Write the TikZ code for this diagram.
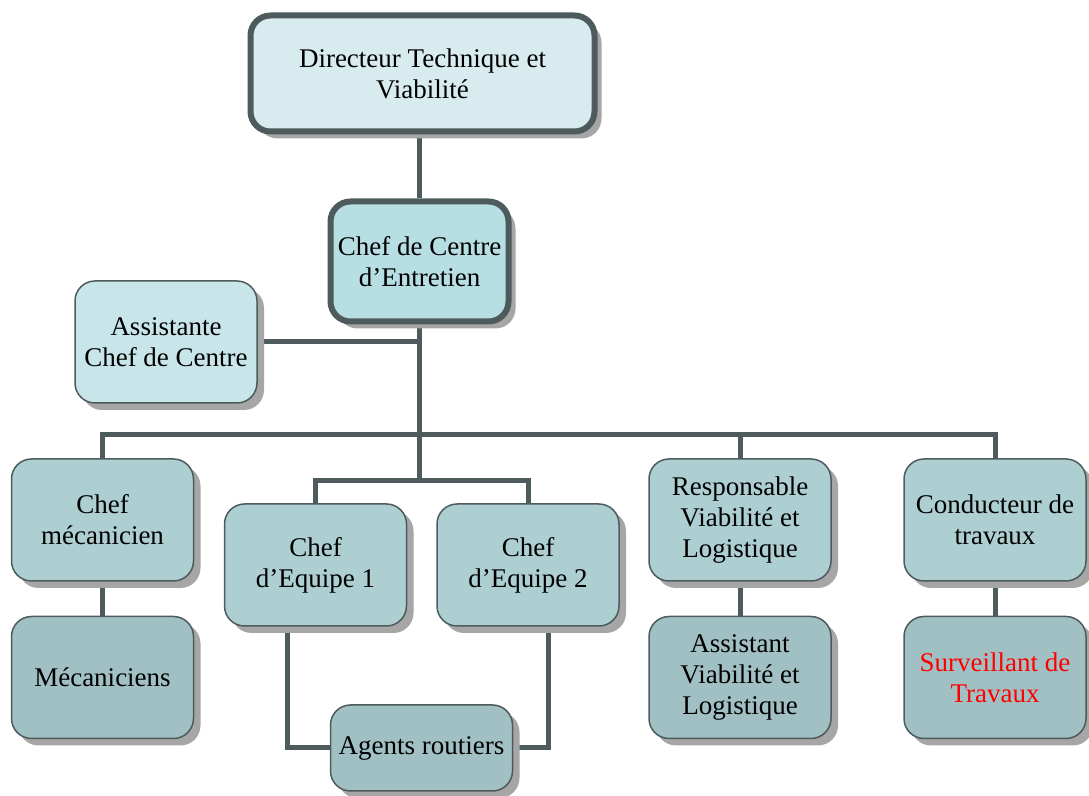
\documentclass[tikz,border=0pt]{standalone}
\usepackage{fontspec}
\setmainfont{Liberation Serif}
\usepackage{tikz}
\usetikzlibrary{shadows,backgrounds}

\definecolor{linkgray}{HTML}{4D5B5D}
\definecolor{topfill}{HTML}{D8ECEF}
\definecolor{midfill}{HTML}{B7DEE2}
\definecolor{sidefill}{HTML}{C8E6E9}
\definecolor{rolefill}{HTML}{ADCFD2}
\definecolor{staffill}{HTML}{A1C0C3}

\begin{document}
\begin{tikzpicture}[x=0.5pt,y=-0.5pt,
  every node/.style={align=center,font=\fontsize{13.5}{15.5}\selectfont},
  box/.style={rounded corners=10pt, draw=linkgray, line width=0.75pt,
    minimum width=91pt, minimum height=61pt, inner sep=2pt,
    drop shadow={shadow xshift=3.5pt, shadow yshift=-3.5pt, fill=black!35, opacity=1}},
  headbox/.style={box, line width=3pt, minimum width=172pt, minimum height=58pt},
  role/.style={box, fill=rolefill},
  staff/.style={box, fill=staffill},
  link/.style={draw=linkgray, line width=2.5pt}]

\useasboundingbox (0,0) rectangle (1089,796);

% Direction and centre
\node[headbox, fill=topfill] (dir) at (422.5,73.5) {Directeur Technique et\\Viabilit\'e};
\node[headbox, fill=midfill, minimum width=89pt, minimum height=60pt] (centre) at (419.5,261.5) {Chef de Centre\\d'Entretien};
\node[box, fill=sidefill] (asst) at (166,342) {Assistante\\Chef de Centre};

% Heads of the units
\node[role] (meca) at (102.5,520) {Chef\\m\'ecanicien};
\node[role] (eqone) at (315.5,565) {Chef\\d'Equipe 1};
\node[role] (eqtwo) at (528,565) {Chef\\d'Equipe 2};
\node[role] (resp) at (740,520) {Responsable\\Viabilit\'e et\\Logistique};
\node[role] (cond) at (995,520) {Conducteur de\\travaux};

% Staff
\node[staff] (mecs) at (102.5,677.5) {M\'ecaniciens};
\node[staff, minimum height=43pt] (agents) at (421.5,748) {Agents routiers};
\node[staff] (asvl) at (740,677.5) {Assistant\\Viabilit\'e et\\Logistique};
\node[staff, text=red] (surv) at (995,677.5) {Surveillant de\\Travaux};

\coordinate (bus) at (419.5,435);
\coordinate (split) at (419.5,481);

% Connectors behind the boxes
\begin{scope}[on background layer]
\draw[link] (centre.north) -- (centre.north |- dir.south);
\draw[link] (centre.south) -- (bus);
\draw[link] (asst.east) -- (asst.east -| centre.south);
\draw[link] (meca.north) |- (bus) -| (cond.north);
\draw[link] (resp.north) -- (resp.north |- bus);
\draw[link] (bus) -- (split);
\draw[link] (eqone.north) |- (split) -| (eqtwo.north);
\draw[link] (meca.south) -- (mecs.north);
\draw[link] (resp.south) -- (asvl.north);
\draw[link] (cond.south) -- (surv.north);
\draw[link] ([xshift=-14.25pt]eqone.south) |- (agents.west);
\draw[link] ([xshift=10pt]eqtwo.south) |- (agents.east);
\end{scope}

\end{tikzpicture}
\end{document}
